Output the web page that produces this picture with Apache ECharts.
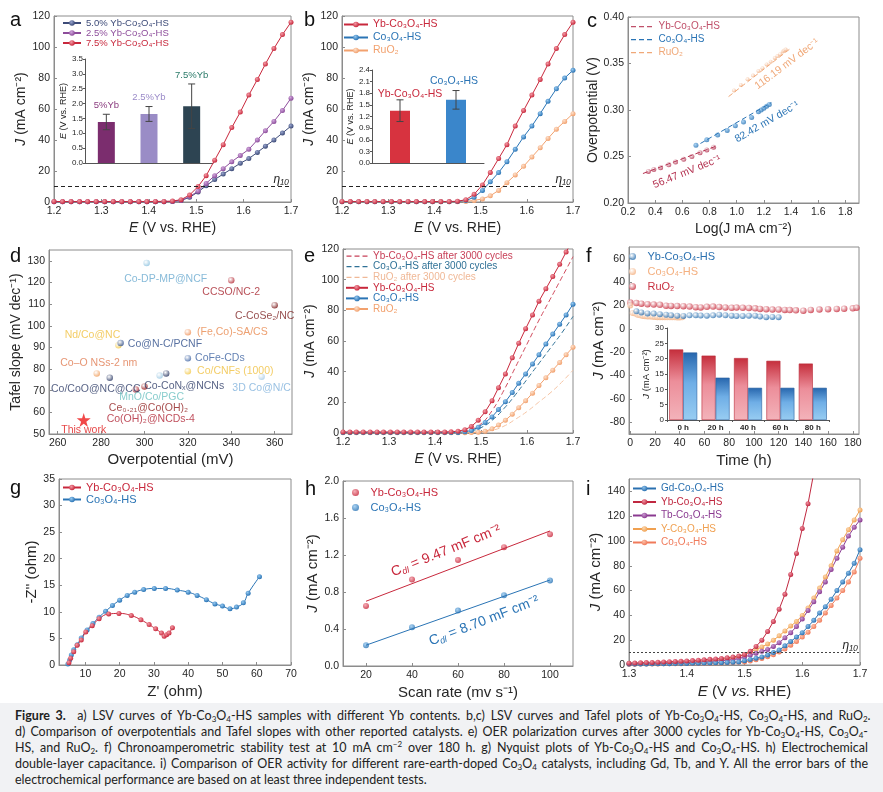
<!DOCTYPE html>
<html><head><meta charset="utf-8">
<script src="https://cdn.jsdelivr.net/npm/echarts@6/dist/echarts.min.js"></script>
<style>
html,body{margin:0;padding:0;background:#fff;}
#chart{position:absolute;left:0;top:0;width:883px;height:792px;}
#cap{position:absolute;left:0;top:703px;width:883px;height:89px;background:#f1f2f4;font-family:Lato,"Open Sans",sans-serif;font-size:12.5px;color:#222;}
.ln{position:absolute;left:15px;white-space:nowrap;transform-origin:0 0;line-height:16px;}
.ln sub{font-size:8px;vertical-align:-2px;line-height:0;}
.ln sup{font-size:8px;vertical-align:5px;line-height:0;}
</style></head><body>
<div id="chart"></div>
<div id="cap">
<div class="ln j" style="top:5px"><b>Figure 3.</b>&nbsp; a) LSV curves of Yb-Co<sub>3</sub>O<sub>4</sub>-HS samples with different Yb contents. b,c) LSV curves and Tafel plots of Yb-Co<sub>3</sub>O<sub>4</sub>-HS, Co<sub>3</sub>O<sub>4</sub>-HS, and RuO<sub>2</sub>.</div>
<div class="ln j" style="top:21px">d) Comparison of overpotentials and Tafel slopes with other reported catalysts. e) OER polarization curves after 3000 cycles for Yb-Co<sub>3</sub>O<sub>4</sub>-HS, Co<sub>3</sub>O<sub>4</sub>-</div>
<div class="ln j" style="top:37px">HS, and RuO<sub>2</sub>. f) Chronoamperometric stability test at 10 mA cm<sup>−2</sup> over 180 h. g) Nyquist plots of Yb-Co<sub>3</sub>O<sub>4</sub>-HS and Co<sub>3</sub>O<sub>4</sub>-HS. h) Electrochemical</div>
<div class="ln j" style="top:53px">double-layer capacitance. i) Comparison of OER activity for different rare-earth-doped Co<sub>3</sub>O<sub>4</sub> catalysts, including Gd, Tb, and Y. All the error bars of the</div>
<div class="ln" style="top:69px">electrochemical performance are based on at least three independent tests.</div>
</div>
<script>
// ---------------- DATA ----------------
// (a) LSV, different Yb contents
const E_ab = [1.200,1.218,1.236,1.254,1.271,1.289,1.307,1.325,1.343,1.361,1.379,1.396,1.414,1.432,1.450,1.468,1.486,1.504,1.521,1.539,1.557,1.575,1.593,1.611,1.629,1.646,1.664,1.682,1.700];
const J_a_75 = [0.3,0.3,0.3,0.3,0.3,0.3,0.3,0.3,0.3,0.3,0.3,0.3,0.4,0.4,0.6,1.5,4.5,10,17,27,37,48,58,69,79,89,99,108,116];
const J_a_25 = [0.2,0.2,0.2,0.2,0.2,0.2,0.2,0.2,0.2,0.2,0.2,0.2,0.2,0.2,0.4,1.0,3.5,7,12,17,21.5,26,30,34,40,46,52,59,67];
const J_a_50 = [0.2,0.2,0.2,0.2,0.2,0.2,0.2,0.2,0.2,0.2,0.2,0.2,0.2,0.2,0.4,1.0,3,6.5,10.5,14.5,18,21.5,25,28,32,36,40,44.5,49];
const insetA_cats = ['5%Yb','2.5%Yb','7.5%Yb'];
const insetA_E = [1.38,1.65,1.91];
const insetA_err = [0.26,0.25,0.75];
// (b) LSV
const J_b_Yb = [0.3,0.3,0.3,0.3,0.3,0.3,0.3,0.3,0.3,0.3,0.3,0.3,0.3,0.3,0.5,1.5,5,11,19,28,37,49,59,69,79,89,99,108,116];
const J_b_Co = [0.2,0.2,0.2,0.2,0.2,0.2,0.2,0.2,0.2,0.2,0.2,0.2,0.2,0.2,0.3,1,3,7.5,13,19,26,34,42,49,57,65,73,80,85];
const J_b_Ru = [0.2,0.2,0.2,0.2,0.2,0.2,0.2,0.2,0.2,0.2,0.2,0.2,0.2,0.2,0.2,0.4,1,2,4,7.5,12.5,17.5,23,29,35,41,47,52,57];
const insetB_cats = ['Yb-Co₃O₄-HS','Co₃O₄-HS'];
const insetB_E = [1.35,1.63];
const insetB_err = [0.28,0.24];
// (c) Tafel
const logJ_Yb = [0.35,0.39,0.44,0.50,0.55,0.61,0.67,0.73,0.78,0.83];
const eta_Yb  = [0.234,0.236,0.238,0.241,0.244,0.247,0.250,0.254,0.257,0.260];
const fit_c_Yb = [[0.31,0.2317],[0.855,0.2615]];
const logJ_Co = [0.70,0.78,0.86,0.93,0.99,1.05,1.11,1.16,1.18,1.20,1.22,1.24];
const eta_Co  = [0.262,0.268,0.273,0.278,0.283,0.287,0.292,0.298,0.300,0.302,0.304,0.306];
const fit_c_Co = [[0.733,0.264],[1.255,0.308]];
const logJ_Ru = [0.98,1.03,1.08,1.12,1.16,1.19,1.22,1.25,1.28,1.30,1.32,1.34,1.35,1.36];
const eta_Ru  = [0.321,0.327,0.333,0.337,0.342,0.345,0.349,0.352,0.356,0.358,0.360,0.363,0.364,0.365];
const fit_c_Ru = [[0.94,0.3144],[1.39,0.3655]];
const c_xTicks = [0.2,0.4,0.6,0.8,1.0,1.2,1.4,1.6,1.8];
// (d) comparison
const d_names = ['Co-DP-MP@NCF','CCSO/NC-2','C-CoSe₂/NC','Nd/Co@NC','Co@N-C/PCNF','(Fe,Co)-SA/CS','CoFe-CDs','Co/CNFs (1000)','Co–O NSs-2 nm','Co/CoO@NC@CC','Co-CoNₓ@NCNs','MnO/Co/PGC','3D Co@N/C','Ce₀.₂₁@Co(OH)₂','Co(OH)₂@NCDs-4','This work'];
const d_overpot = [301,340,360,288,289,320,320,320,278,284,310,307,354,300,296,272];
const d_tafel   = [129,121,109.5,91,92,97,85,79,78,76,78,77,76.5,72,70.5,56.5];
const d_xTicks = [260,280,300,320,340,360];
const d_yTicks = [50,60,70,80,90,100,110,120,130];
// (e) after 3000 cycles
const E_e = [1.200,1.215,1.229,1.244,1.259,1.274,1.288,1.303,1.318,1.332,1.347,1.362,1.376,1.391,1.406,1.421,1.435,1.450,1.465,1.479,1.494,1.509,1.524,1.538,1.553,1.568,1.582,1.597,1.612,1.626,1.641,1.656,1.671,1.685,1.700];
const J_e_Yb = [0.7,0.7,0.7,0.7,0.7,0.7,0.7,0.7,0.7,0.7,0.7,0.7,0.7,0.7,0.7,0.7,0.8,1.2,2.2,4.2,8.3,13.8,21,29.5,38.5,49,58.5,68,77,86,94,102,110,118,126];
const J_e_Co = [0.3,0.3,0.3,0.3,0.3,0.3,0.3,0.3,0.3,0.3,0.3,0.3,0.3,0.3,0.3,0.3,0.3,0.4,0.8,1.6,3.8,6.8,10.5,15.3,20.4,26.4,32.5,38.5,45,51,58,64.5,71,77,84];
const J_e_Ru = [0.2,0.2,0.2,0.2,0.2,0.2,0.2,0.2,0.2,0.2,0.2,0.2,0.2,0.2,0.2,0.2,0.2,0.2,0.2,0.3,0.5,1.1,2.7,5.2,8.3,12.3,16.5,21,26,31,36,41,46,51,56];
const E_cyc = [1.20,1.45,1.475,1.50,1.525,1.55,1.575,1.60,1.625,1.65,1.675,1.70];
const J_cyc_Yb = [0.3,0.5,2,6,15,28,43,58,73,87,101,115];
const J_cyc_Co = [0.3,0.4,1.2,3.5,8.5,16,25,35,45,55,65,76];
const J_cyc_Ru = [0.2,0.3,0.5,0.8,1.8,4.5,9,14,20,26,33,41];
// (f) stability
const f_t_Ru = [0,5,9,14,19,24,29,33,38,43,48,53,57,62,67,72,77,82,86,91,96,101,105,110,115,120,125,129,134,140,146,153,160,167,173,180,183];
const f_J_Ru = [22.5,22,21.5,21,20.8,20.5,19.8,19.6,19.5,19.4,19,18.5,18.3,18.8,19,18.6,18.2,18,18.2,18,17.8,17.5,17,16.8,16.5,16.5,16.2,16,15.8,15.5,16.2,16.5,16.8,17,17.2,17.5,18];
const f_t_Yb = [5,9,14,19,24,29,33,38,43,48,53,57,62,67,72,77,82,86,91,96,101,105,110,115,120];
const f_J_Yb = [15,14,13.2,13,12.5,12,11.5,11.2,11,11.5,11.5,11.3,11.2,11.5,12,11.5,11.2,11,11,11.2,11.2,10.5,10,10.2,10];
const f_t_Co = [0,2,4,6,8,10,12,14,16,18,20,22,24,26,28,30,32,34,36,38,40,42];
const f_J_Co = [20,13.5,13,12,11.5,11,10.8,10.5,10.5,10.3,10.2,10,10,10,10,9.8,9.8,9.8,9.8,9.7,9.7,9.8];
const f_xTicks = [0,20,40,60,80,100,120,140,160,180];
const f_yTicks = [-80,-60,-40,-20,0,20,40,60];
const fInset_cats = ['0 h','20 h','40 h','60 h','80 h'];
const fInset_red = [23,21,20.2,19.3,18.4];
const fInset_blue = [22,13.8,10.5,10.5,10.5];
// (g) Nyquist
const g_Yb_x = [5.2,5.7,6.6,7.6,8.8,10.1,12.0,14.0,16.8,19.8,23.4,26.2,28.6,30.5,32.2,33.0,33.7,34.4,35.4];
const g_Yb_y = [0.44,1.27,2.5,3.7,4.7,6.2,7.4,8.7,9.6,9.7,9.3,8.5,7.6,6.8,6.0,5.4,5.7,6.0,7.0];
const g_Co_x = [4.9,5.4,5.9,6.6,7.6,8.8,10.5,12.2,14.0,15.9,17.9,20.0,22.2,24.4,27.0,30.1,33.4,36.8,40.0,42.6,45.3,47.8,50.0,52.2,54.1,56.1,57.5,60.8];
const g_Co_y = [0.2,0.95,1.9,2.85,3.8,5.1,6.6,7.8,9.0,10.1,11.2,12.2,13.1,13.7,14.2,14.4,14.4,14.1,13.7,13.1,12.3,11.5,11.1,10.6,10.9,11.7,13.5,16.6];
const g_xTicks = [10,20,30,40,50,60,70];
// (h) Cdl
const h_rate = [20,40,60,80,100];
const h_Yb = [0.65,0.935,1.145,1.285,1.425];
const h_Co = [0.225,0.42,0.6,0.765,0.925];
const fit_h_Yb = [[20,0.70],[100,1.46]];
const fit_h_Co = [[20,0.225],[100,0.93]];
const h_xTicks = [20,40,60,80,100];
// (i) rare-earth doped
const E_i = [1.30,1.31,1.32,1.33,1.34,1.35,1.36,1.37,1.38,1.39,1.40,1.41,1.42,1.43,1.44,1.45,1.46,1.47,1.48,1.49,1.50,1.51,1.52,1.53,1.54,1.55,1.56,1.57,1.58,1.59,1.60,1.61,1.62,1.63,1.64,1.65,1.66,1.67,1.68,1.69,1.70];
const J_i_Gd = [0.8,0.8,0.9,0.9,1.0,1.0,1.1,1.1,1.2,1.2,1.3,1.4,1.5,1.6,1.7,1.8,1.9,2.0,2.2,2.5,3.5,4.5,5.5,6.5,8,10,12,15.5,19,22.5,26,31,36,42,47,53,60,67,74,82,93];
const J_i_Yb = [1.5,1.6,1.8,2.0,2.1,2.3,2.5,2.7,2.9,3.1,3.3,3.6,3.9,4.2,4.6,4.9,5.3,5.8,6.4,7.3,8.5,11,15,20,27,35,45,57,73,90,110,130,155];
const J_i_Tb = [1.0,1.1,1.2,1.3,1.4,1.5,1.6,1.7,1.8,1.9,2.0,2.2,2.4,2.6,2.9,3.2,3.5,3.9,4.4,5.2,6.5,8,9.5,11,12.5,15,18,22,26,31,37,44,51,59,67,77,86,95,104,111,117];
const J_i_Y  = [1.2,1.3,1.4,1.5,1.6,1.7,1.8,1.9,2.0,2.2,2.4,2.6,2.8,3.1,3.5,4.0,4.5,5.0,5.8,6.8,8.5,10.5,12.5,14.5,17,20,23.5,27.5,31.5,35,40,46,54,62,71,80,92,101,109,117,125];
const J_i_Co = [0.7,0.7,0.8,0.8,0.9,0.9,1.0,1.0,1.1,1.1,1.2,1.2,1.3,1.4,1.5,1.6,1.7,1.8,2.0,2.2,2.5,3.3,4.2,5.3,6.7,8.3,10.5,13,16,19,22.5,26.5,31,36,42,48,54,60,67,75,86];
const i_yTicks = [0,20,40,60,80,100,120,140];
const ETA10 = 10;

// ---------------- STYLE / HELPERS ----------------
const FONT = '"Liberation Sans", Arial, sans-serif';
const AX = '#8c8c8c', TXT = '#262626';
const RED='#c8283c', BLUE='#2a74b5', ORANGE='#f2a16e', NAVY='#3d4b78', PURPLE='#8d4d9b';
const LIGHT = {};
LIGHT[RED]='#f39aa5'; LIGHT[BLUE]='#95c8f0'; LIGHT[ORANGE]='#fde0cb'; LIGHT[NAVY]='#97a3cc'; LIGHT[PURPLE]='#d0a6dc';
const DASH_ICON = 'path://M0,0h0.01v7h-0.01z M0,3h5v1.2h-5z M8,3h5v1.2h-5z M16,3h5v1.2h-5z';
function ball(c, l){ return {type:'radial', x:0.38, y:0.35, r:0.65, colorStops:[{offset:0,color:l||LIGHT[c]||'#fff'},{offset:1,color:c}]}; }
function zip(xs, ys){ const o=[]; for(let k=0;k<Math.min(xs.length,ys.length);k++) o.push([xs[k],ys[k]]); return o; }
function merge(a,b){ const o=Object.assign({},a); for(const k in b){ const v=b[k]; if(v&&typeof v==='object'&&!Array.isArray(v)&&o[k]&&typeof o[k]==='object'&&!Array.isArray(o[k])&&!v.type) o[k]=merge(o[k],v); else o[k]=v; } return o; }
function nts(size){ return {color:TXT,fontSize:size,fontFamily:FONT,rich:{i:{fontStyle:'italic',fontSize:size,fontFamily:FONT,color:TXT}}}; }
const grids=[], xAxes=[], yAxes=[], series=[], legends=[], graphics=[];
const LBL = {};
function addGrid(l,t,w,h,frame){ grids.push({left:l,top:t,width:w,height:h,show:frame,borderColor:AX,borderWidth:1,backgroundColor:'transparent'}); return grids.length-1; }
function vAxis(g,o){ return merge({type:'value',gridIndex:g,axisLine:{show:true,onZero:false,lineStyle:{color:AX,width:1}},axisTick:{show:true,inside:true,length:3,lineStyle:{color:AX}},minorTick:{show:false},splitLine:{show:false},axisLabel:{color:TXT,fontSize:10.5,margin:4,fontFamily:FONT},nameLocation:'middle',nameTextStyle:nts(14)},o); }
function addX(c){ xAxes.push(c); return xAxes.length-1; }
function addY(c){ yAxes.push(c); return yAxes.length-1; }
function lsv(name,label,xi,yi,data,color,extra){ LBL[name]=label; return merge({type:'line',name,xAxisIndex:xi,yAxisIndex:yi,data,symbol:'circle',symbolSize:5,showSymbol:true,lineStyle:{color,width:1},itemStyle:{color:ball(color)},animation:false},extra||{}); }
function dash(name,label,xi,yi,data,color,extra){ LBL[name]=label; return merge({type:'line',name,xAxisIndex:xi,yAxisIndex:yi,data,symbol:'none',smooth:true,lineStyle:{color,width:1,type:[5,3]},itemStyle:{color},animation:false},extra||{}); }
function dots(name,label,xi,yi,data,color,size){ LBL[name]=label; return {type:'scatter',name,xAxisIndex:xi,yAxisIndex:yi,data,symbol:'circle',symbolSize:size||5,itemStyle:{color:ball(color)},animation:false}; }
function legend(left,top,items,o){ return merge({orient:'vertical',left,top,padding:0,itemWidth:22,itemHeight:7,itemGap:2,selectedMode:false,textStyle:{fontSize:10,fontFamily:FONT,lineHeight:11},data:items.map(([n,c,ic])=>{ const d={name:n,textStyle:{color:c}}; if(ic){ d.icon=ic; d.itemStyle={color:c}; } return d; }),formatter:n=>LBL[n]},o||{}); }
function etaLine(color, type){ return {silent:true,symbol:'none',animation:false,data:[{yAxis:ETA10}],lineStyle:{color:color||'#222',width:1,type:type||[4,3]},label:{show:true,position:'insideEndTop',formatter:'η₁₀',color:'#222',fontSize:12,fontStyle:'italic',fontFamily:FONT,distance:[2,1]}}; }
function errSeries(xi,yi,vals,errs,labels,colors,fs,lift,dx){ return {type:'custom',xAxisIndex:xi,yAxisIndex:yi,data:vals.map((v,k)=>[k,v,errs[k]]),encode:{x:0,y:1},z:5,silent:true,animation:false,renderItem:(p,api)=>{ const k=api.value(0),v=api.value(1),e=api.value(2); const t=api.coord([k,v+e]), b=api.coord([k,v-e]); const cw=3.5, st={stroke:'#444',lineWidth:1}; return {type:'group',children:[{type:'line',shape:{x1:t[0],y1:t[1],x2:b[0],y2:b[1]},style:st},{type:'line',shape:{x1:t[0]-cw,y1:t[1],x2:t[0]+cw,y2:t[1]},style:st},{type:'line',shape:{x1:b[0]-cw,y1:b[1],x2:b[0]+cw,y2:b[1]},style:st},{type:'text',x:t[0]+(dx?dx[k]:0),y:t[1]-lift[k],style:{text:labels[k],fill:colors[k],fontSize:fs,fontFamily:FONT,align:'center',verticalAlign:'middle'}}]}; }}; }
function letter(t,x,y){ graphics.push({type:'text',left:x-6,top:y-12,style:{text:t,fontSize:20,fontFamily:FONT,fill:'#111'}}); }
function note(t,x,y,deg,color,fs,rich){ graphics.push({type:'text',x,y,rotation:deg*Math.PI/180,style:{text:t,fill:color,fontSize:fs,fontFamily:FONT,align:'center',verticalAlign:'middle',rich:rich||undefined}}); }
const f1=v=>v.toFixed(1), f2=v=>v.toFixed(2);
const EX = '{i|E} (V vs. RHE)', JY = '{i|J} (mA cm⁻²)';

// ---------------- PANEL a ----------------
let g=addGrid(54,16,237,186,true);
let xi=addX(vAxis(g,{min:1.2,max:1.7,interval:0.1,name:EX,nameGap:19,axisLabel:{formatter:f1}}));
let yi=addY(vAxis(g,{min:0,max:120,interval:20,name:JY,nameGap:21}));
series.push(lsv('a50','5.0% Yb-Co₃O₄-HS',xi,yi,zip(E_ab,J_a_50),NAVY));
series.push(lsv('a25','2.5% Yb-Co₃O₄-HS',xi,yi,zip(E_ab,J_a_25),PURPLE));
series.push(lsv('a75','7.5% Yb-Co₃O₄-HS',xi,yi,zip(E_ab,J_a_75),RED,{markLine:etaLine()}));
legends.push(legend(62,18,[['a50',NAVY],['a25',PURPLE],['a75',RED]],{itemWidth:18,itemGap:0,textStyle:{fontSize:9.5,lineHeight:10}}));
g=addGrid(85,59,128,104,false);
xi=addX({type:'category',gridIndex:g,data:insetA_cats,axisLine:{show:true,lineStyle:{color:'#555'}},axisTick:{show:false},axisLabel:{show:false}});
yi=addY(vAxis(g,{min:0,max:3.5,interval:0.5,axisLine:{lineStyle:{color:'#555'}},axisTick:{inside:false,length:2,lineStyle:{color:'#555'}},axisLabel:{fontSize:8,margin:2,formatter:f1},name:EX,nameGap:15,nameTextStyle:nts(9)}));
series.push({type:'bar',xAxisIndex:xi,yAxisIndex:yi,barWidth:17,animation:false,data:insetA_E.map((v,k)=>({value:v,itemStyle:{color:['#7b2d6e','#9a8cc6','#2d4452'][k]}}))});
series.push(errSeries(xi,yi,insetA_E,insetA_err,insetA_cats,['#8a3a7e','#9a8ac8','#2a7a68'],9.5,[9,9,9]));

// ---------------- PANEL b ----------------
g=addGrid(342,16,231,186,true);
xi=addX(vAxis(g,{min:1.2,max:1.7,interval:0.1,name:EX,nameGap:19,axisLabel:{formatter:f1}}));
yi=addY(vAxis(g,{min:0,max:120,interval:20,name:JY,nameGap:21}));
series.push(lsv('bRu','RuO₂',xi,yi,zip(E_ab,J_b_Ru),ORANGE));
series.push(lsv('bCo','Co₃O₄-HS',xi,yi,zip(E_ab,J_b_Co),BLUE));
series.push(lsv('bYb','Yb-Co₃O₄-HS',xi,yi,zip(E_ab,J_b_Yb),RED,{markLine:etaLine()}));
legends.push(legend(343,19,[['bYb',RED],['bCo',BLUE],['bRu',ORANGE]],{itemWidth:24,itemGap:2,textStyle:{fontSize:10.5,lineHeight:11}}));
g=addGrid(372,70,112,93,false);
xi=addX({type:'category',gridIndex:g,data:insetB_cats,axisLine:{show:true,lineStyle:{color:'#555'}},axisTick:{show:false},axisLabel:{show:false}});
yi=addY(vAxis(g,{min:0,max:2.4,interval:0.3,axisLine:{lineStyle:{color:'#555'}},axisTick:{inside:false,length:2,lineStyle:{color:'#555'}},axisLabel:{fontSize:8,margin:2,formatter:f1},name:EX,nameGap:15,nameTextStyle:nts(9)}));
series.push({type:'bar',xAxisIndex:xi,yAxisIndex:yi,barWidth:20,animation:false,data:insetB_E.map((v,k)=>({value:v,itemStyle:{color:['#d7333f','#3a86cb'][k]}}))});
series.push(errSeries(xi,yi,insetB_E,insetB_err,insetB_cats,[RED,BLUE],10.5,[6,9],[10,-2]));

// ---------------- PANEL c ----------------
const CRED='#b3304f', CBLUE='#2a74b5', CORG='#f0a878';
g=addGrid(628,17,231,186,true);
xi=addX(vAxis(g,{min:0.2,max:1.9,name:'Log(J mA cm⁻²)',nameGap:19,axisLabel:{customValues:c_xTicks,formatter:f1},axisTick:{customValues:c_xTicks}}));
yi=addY(vAxis(g,{min:0.2,max:0.4,interval:0.05,name:'Overpotential (V)',nameGap:26,axisLabel:{formatter:f2}}));
series.push(dash('cYbF','Yb-Co₃O₄-HS',xi,yi,fit_c_Yb,CRED,{smooth:false}));
series.push(dash('cCoF','Co₃O₄-HS',xi,yi,fit_c_Co,CBLUE,{smooth:false}));
series.push(dash('cRuF','RuO₂',xi,yi,fit_c_Ru,CORG,{smooth:false}));
series.push(dots('cYb','',xi,yi,zip(logJ_Yb,eta_Yb),CRED,5));
series.push(dots('cCo','',xi,yi,zip(logJ_Co,eta_Co),CBLUE,5));
series.push(dots('cRu','',xi,yi,zip(logJ_Ru,eta_Ru),CORG,4));
legends.push(legend(631,21,[['cYbF','#c0506a',DASH_ICON],['cCoF',CBLUE,DASH_ICON],['cRuF',CORG,DASH_ICON]],{itemWidth:24,itemGap:2,textStyle:{fontSize:10,lineHeight:11}}));
note('56.47 mV dec⁻¹',687,172,22,CRED,10.5);
note('82.42 mV dec⁻¹',767,122,30,CBLUE,10.5);
note('116.19 mV dec⁻¹',787,64,37,CORG,10.5);

// ---------------- PANEL d ----------------
const dColors=['#8ec3e0','#b52a35','#7d1c1c','#f3c94a','#2e4d8a','#f0935a','#4468a6','#f3c94a','#f0a060','#2d3b66','#2d3b66','#9cc8e2','#a9cce6','#9b1b1b','#a8232d','#ee1c1c'];
const dLabColors=['#6aaad0','#a8262f','#7a1d1d','#f0c040','#2e4d8a','#e8884e','#3c62a0','#f0c040','#e07a50','#2d3b66','#2d3b66','#6cc0c0','#7fb2dc','#8e1a1a','#b02434','#e01818'];
const dLabPos=['inside','inside','inside','inside','right','right','right','right','inside','inside','inside','inside','inside','inside','inside','inside'];
const dOff=[[19,16],[0,12],[-10,11],[-26,-10],[3,1],[5,0],[3,0],[5,0],[2,-10],[-14,11],[18,13],[-8,22],[0,11],[4,22],[15,29],[0,10]];
const STAR='path://M50,0 L61,35 L98,35 L68,57 L79,91 L50,70 L21,91 L32,57 L2,35 L39,35 Z';
g=addGrid(49,250,243,184,true);
xi=addX(vAxis(g,{min:256,max:368,name:'Overpotential (mV)',nameGap:18,nameTextStyle:nts(15),axisLabel:{customValues:d_xTicks},axisTick:{customValues:d_xTicks}}));
yi=addY(vAxis(g,{min:50,max:135,name:'Tafel slope (mV dec⁻¹)',nameGap:22,axisLabel:{customValues:d_yTicks},axisTick:{customValues:d_yTicks}}));
series.push({type:'scatter',xAxisIndex:xi,yAxisIndex:yi,animation:false,data:d_names.map((n,k)=>({name:n,value:[d_overpot[k],d_tafel[k]],symbol:k===d_names.length-1?STAR:'circle',symbolSize:k===d_names.length-1?14:6.5,itemStyle:{color:k===d_names.length-1?dColors[k]:ball(dColors[k],'#ffffff')},label:{show:true,position:dLabPos[k],distance:1,offset:dOff[k],formatter:n,color:dLabColors[k],fontSize:10.5,fontFamily:FONT}}))});

// ---------------- PANEL e ----------------
g=addGrid(343,249,230,184,true);
xi=addX(vAxis(g,{min:1.2,max:1.7,interval:0.1,name:EX,nameGap:19,axisLabel:{formatter:f1}}));
yi=addY(vAxis(g,{min:0,max:120,interval:20,name:JY,nameGap:21}));
series.push(dash('eYbD','Yb-Co₃O₄-HS after 3000 cycles',xi,yi,zip(E_cyc,J_cyc_Yb),'#d04a5c'));
series.push(dash('eCoD','Co₃O₄-HS after 3000 cycles',xi,yi,zip(E_cyc,J_cyc_Co),'#2f7196'));
series.push(dash('eRuD','RuO₂ after 3000 cycles',xi,yi,zip(E_cyc,J_cyc_Ru),'#f5c4a4'));
series.push(lsv('eRu','RuO₂',xi,yi,zip(E_e,J_e_Ru),ORANGE));
series.push(lsv('eCo','Co₃O₄-HS',xi,yi,zip(E_e,J_e_Co),BLUE));
series.push(lsv('eYb','Yb-Co₃O₄-HS',xi,yi,zip(E_e,J_e_Yb),RED));
legends.push(legend(345,251,[['eYbD','#c84058',DASH_ICON],['eCoD','#2f7196',DASH_ICON],['eRuD','#f0b896',DASH_ICON],['eYb',RED],['eCo',BLUE],['eRu',ORANGE]],{itemWidth:22,itemGap:0.6,textStyle:{fontSize:10,lineHeight:10}}));

// ---------------- PANEL f ----------------
const FRED='#c83040', FBLUE='#2a70b0', FORG='#f4b080';
g=addGrid(629,247,230,187,true);
xi=addX(vAxis(g,{min:-1,max:185,name:'Time (h)',nameGap:19,nameTextStyle:nts(15),axisLabel:{customValues:f_xTicks},axisTick:{customValues:f_xTicks}}));
yi=addY(vAxis(g,{min:-90,max:70,name:JY,nameGap:22,nameTextStyle:nts(15),axisLabel:{customValues:f_yTicks},axisTick:{customValues:f_yTicks}}));
series.push(dots('fRu','RuO₂',xi,yi,zip(f_t_Ru,f_J_Ru),FRED,6.5));
series.push(dots('fCo','Co₃O₄-HS',xi,yi,zip(f_t_Co,f_J_Co),FORG,6));
series.push(dots('fYb','Yb-Co₃O₄-HS',xi,yi,zip(f_t_Yb,f_J_Yb),FBLUE,6));
legends.push(legend(629,251,[['fYb',FBLUE],['fCo',FORG],['fRu',FRED]],{itemWidth:20,itemHeight:7,itemGap:4,textStyle:{fontSize:11,lineHeight:11}}));
g=addGrid(667,328,162,92,false);
xi=addX({type:'category',gridIndex:g,data:fInset_cats,axisLine:{show:true,lineStyle:{color:'#555'}},axisTick:{show:true,inside:false,length:2,lineStyle:{color:'#555'}},axisLabel:{fontSize:8,fontWeight:'bold',color:TXT,margin:4,fontFamily:FONT}});
yi=addY(vAxis(g,{min:0,max:30,interval:5,axisLine:{lineStyle:{color:'#555'}},axisTick:{inside:false,length:2,lineStyle:{color:'#555'}},axisLabel:{fontSize:8,margin:3},name:JY,nameGap:13,nameTextStyle:nts(9.5)}));
const gradR={type:'linear',x:0,y:0,x2:0,y2:1,colorStops:[{offset:0,color:'#c52e3c'},{offset:0.45,color:'#ec8e9a'},{offset:1,color:'#f3b3ba'}]};
const gradB={type:'linear',x:0,y:0,x2:0,y2:1,colorStops:[{offset:0,color:'#2766ad'},{offset:0.45,color:'#6faee6'},{offset:1,color:'#98cdf2'}]};
series.push({type:'bar',xAxisIndex:xi,yAxisIndex:yi,data:fInset_red,barWidth:14,barGap:'0%',animation:false,itemStyle:{color:gradR,borderColor:'#b82836',borderWidth:0.6}});
series.push({type:'bar',xAxisIndex:xi,yAxisIndex:yi,data:fInset_blue,barWidth:14,barGap:'0%',animation:false,itemStyle:{color:gradB,borderColor:'#2a5f9e',borderWidth:0.6}});

// ---------------- PANEL g ----------------
g=addGrid(59,479,232,186,true);
xi=addX(vAxis(g,{min:2.3,max:70,name:"Z' (ohm)",nameGap:19,nameTextStyle:nts(15),axisLabel:{customValues:g_xTicks},axisTick:{customValues:g_xTicks}}));
yi=addY(vAxis(g,{min:0,max:35,interval:5,name:"-Z'' (ohm)",nameGap:18,nameTextStyle:nts(15)}));
series.push(lsv('gCo','Co₃O₄-HS',xi,yi,zip(g_Co_x,g_Co_y),BLUE,{smooth:true}));
series.push(lsv('gYb','Yb-Co₃O₄-HS',xi,yi,zip(g_Yb_x,g_Yb_y),RED,{smooth:true}));
legends.push(legend(62,482,[['gYb',RED],['gCo',BLUE]],{itemWidth:18,itemGap:1,textStyle:{fontSize:11,lineHeight:11}}));

// ---------------- PANEL h ----------------
g=addGrid(343,481,230,185,true);
xi=addX(vAxis(g,{min:10,max:110,name:'Scan rate (mv s⁻¹)',nameGap:19,nameTextStyle:nts(15),axisLabel:{customValues:h_xTicks},axisTick:{customValues:h_xTicks}}));
yi=addY(vAxis(g,{min:0,max:2.0,interval:0.4,name:JY,nameGap:22,nameTextStyle:nts(15),axisLabel:{formatter:f1}}));
series.push({type:'line',xAxisIndex:xi,yAxisIndex:yi,data:fit_h_Yb,symbol:'none',lineStyle:{color:RED,width:1},animation:false});
series.push({type:'line',xAxisIndex:xi,yAxisIndex:yi,data:fit_h_Co,symbol:'none',lineStyle:{color:BLUE,width:1},animation:false});
series.push(dots('hYb','Yb-Co₃O₄-HS',xi,yi,zip(h_rate,h_Yb),RED,6));
series.push(dots('hCo','Co₃O₄-HS',xi,yi,zip(h_rate,h_Co),BLUE,6));
legends.push(legend(352,487,[['hYb',RED],['hCo',BLUE]],{itemWidth:20,itemHeight:7,itemGap:4,textStyle:{fontSize:11,lineHeight:11}}));
const cdlRich=(col)=>({c:{fontSize:14,color:col,fontFamily:FONT},s:{fontSize:9,fontStyle:'italic',color:col,fontFamily:FONT,padding:[7,0,0,0]},t:{fontSize:14,color:col,fontFamily:FONT}});
note('{c|C}{s|dl}{t| = 9.47 mF cm⁻²}',446,551,22,RED,14,cdlRich(RED));
note('{c|C}{s|dl}{t| = 8.70 mF cm⁻²}',484,621,21,BLUE,14,cdlRich(BLUE));

// ---------------- PANEL i ----------------
const IGD='#2a70b0', IYB='#c02840', ITB='#8a3a90', IY='#f0a050', ICO='#f07a5a';
LIGHT[IGD]='#8cc0ea'; LIGHT[IYB]='#f090a0'; LIGHT[ITB]='#c898d0'; LIGHT[IY]='#fcd8b0'; LIGHT[ICO]='#fbc0a8';
g=addGrid(629,479,231,186,true);
xi=addX(vAxis(g,{min:1.3,max:1.7,interval:0.1,name:'{i|E} (V {i|vs.} RHE)',nameGap:19,nameTextStyle:nts(15),axisLabel:{formatter:f1}}));
yi=addY(vAxis(g,{min:0,max:150,name:JY,nameGap:22,nameTextStyle:nts(15),axisLabel:{customValues:i_yTicks},axisTick:{customValues:i_yTicks}}));
series.push(lsv('iCo','Co₃O₄-HS',xi,yi,zip(E_i,J_i_Co),ICO));
series.push(lsv('iY','Y-Co₃O₄-HS',xi,yi,zip(E_i,J_i_Y),IY));
series.push(lsv('iTb','Tb-Co₃O₄-HS',xi,yi,zip(E_i,J_i_Tb),ITB));
series.push(lsv('iGd','Gd-Co₃O₄-HS',xi,yi,zip(E_i,J_i_Gd),IGD));
series.push(lsv('iYb','Yb-Co₃O₄-HS',xi,yi,zip(E_i,J_i_Yb),IYB,{markLine:etaLine('#444',[2,2])}));
legends.push(legend(632,483,[['iGd',IGD],['iYb',IYB],['iTb',ITB],['iY',IY],['iCo',ICO]],{itemWidth:23,itemGap:2.5,textStyle:{fontSize:10,lineHeight:11}}));

// letters
letter('a',16,22); letter('b',310,22); letter('c',593,23);
letter('d',16,258); letter('e',310,258); letter('f',592,258);
letter('g',16,490); letter('h',311,491); letter('i',592,491);

const chart = echarts.init(document.getElementById('chart'), null, {renderer:'canvas'});
chart.setOption({animation:false,backgroundColor:'#ffffff',textStyle:{fontFamily:FONT},grid:grids,xAxis:xAxes,yAxis:yAxes,series:series,legend:legends,graphic:graphics});

// caption fitting
function fitCaption(){
  const W=853; const lines=[...document.querySelectorAll('#cap .ln')];
  lines.forEach(el=>{ el.style.wordSpacing='0px'; el.style.transform='none'; });
  let scales=[];
  lines.forEach(el=>{
    if(!el.classList.contains('j')) return;
    const w=el.getBoundingClientRect().width;
    const n=(el.textContent.match(/ /g)||[]).length;
    if(w<=W){ el.style.wordSpacing=((W-w)/n)+'px'; scales.push(1); }
    else { const s=W/w; el.style.transform='scaleX('+s+')'; scales.push(s); }
  });
  const last=lines[lines.length-1]; const ms=Math.min(...scales); if(ms<1) last.style.transform='scaleX('+ms+')';
}
if(document.fonts&&document.fonts.ready){ document.fonts.ready.then(fitCaption); } else fitCaption();
fitCaption();
</script>
</body></html>
